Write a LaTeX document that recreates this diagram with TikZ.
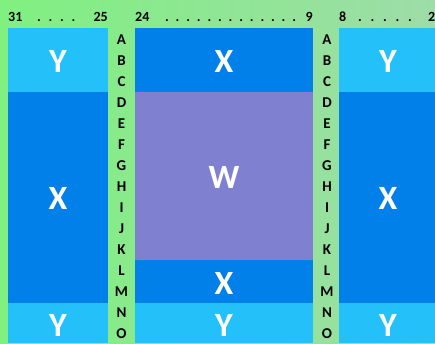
\documentclass[tikz,border=0pt]{standalone}
\usepackage{fontspec}
\setmainfont{Carlito}
\definecolor{ylw}{RGB}{36,192,250}
\definecolor{xbl}{RGB}{0,128,232}
\definecolor{wpu}{RGB}{128,128,208}
\definecolor{gl}{RGB}{128,240,128}
\definecolor{gr}{RGB}{158,220,168}
\begin{document}
\begin{tikzpicture}[x=1pt,y=-1pt,
  big/.style={font=\fontsize{34}{34}\selectfont\bfseries,text=white,inner sep=0pt},
  lett/.style={font=\fontsize{15}{15}\selectfont\bfseries,text=black,inner sep=0pt},
  num/.style={font=\fontsize{14}{14}\selectfont\bfseries,text=black,inner sep=0pt,anchor=base}]
\useasboundingbox (0,0) rectangle (435,343);
\shade[left color=gl,right color=gr] (0,0) rectangle (435,343);
% left column
\fill[ylw] (8,28) rectangle (108,92);
\fill[xbl] (8,92) rectangle (108,303);
\fill[ylw] (8,303) rectangle (108,343);
% middle
\fill[xbl] (135,28) rectangle (313,92);
\fill[wpu] (135,92) rectangle (313,260);
\fill[xbl] (135,260) rectangle (313,303);
\fill[ylw] (135,303) rectangle (313,343);
% right
\fill[ylw] (339,28) rectangle (435,92);
\fill[xbl] (339,92) rectangle (435,303);
\fill[ylw] (339,303) rectangle (435,343);
% big labels
\node[big] (ly1) at (58,61) {Y};
\node[big] (lx) at (58,198) {X};
\node[big] (ly2) at (58,325) {Y};
\node[big] (mx1) at (224,61) {X};
\node[big] (mw) at (224,177) {W};
\node[big] (mx2) at (224,283) {X};
\node[big] (my) at (224,325) {Y};
\node[big] (ry1) at (388,61) {Y};
\node[big] (rx) at (388,198) {X};
\node[big] (ry2) at (388,325) {Y};
% strip letters
\foreach \l [count=\i from 0] in {A,B,C,D,E,F,G,H,I,J,K,L,M,N,O}{
  \node[lett] (sa\i) at (121.5,40+21*\i) {\l};
  \node[lett] (sb\i) at (327,40+21*\i) {\l};
}
% top numbers
\node[num,anchor=base west] (n31) at (8,21) {31};
\node[num,anchor=base east] (n25) at (108,21) {25};
\foreach \i in {0,...,3}{\node[num] (da\i) at (39+11.5*\i,21) {.};}
\node[num,anchor=base west] (n24) at (135,21) {24};
\node[num,anchor=base east] (n9) at (313,21) {9};
\foreach \i in {0,...,12}{\node[num] (db\i) at (167+10.6*\i,21) {.};}
\node[num,anchor=base west] (n8) at (339,21) {8};
\foreach \i in {0,...,4}{\node[num] (dc\i) at (360+12.5*\i,21) {.};}
\node[num,anchor=base west] (n2) at (428,21) {2};
\end{tikzpicture}
\end{document}
